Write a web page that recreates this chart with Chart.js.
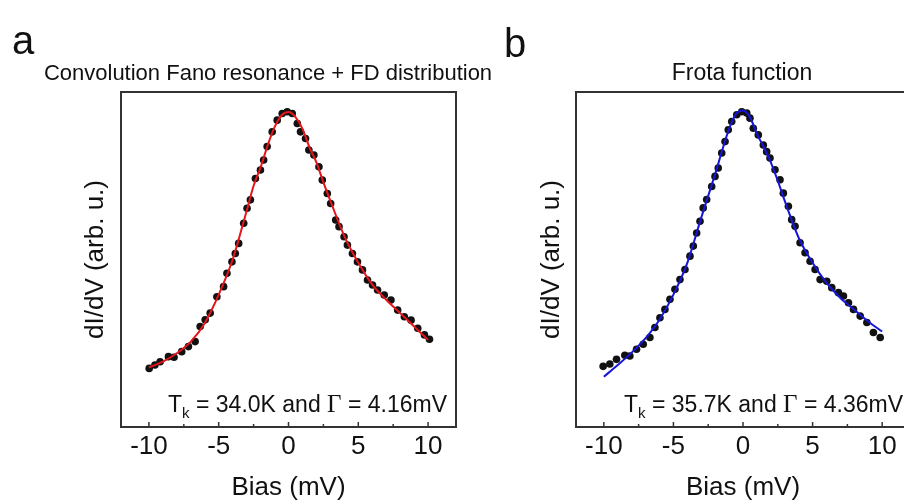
<!DOCTYPE html>
<html>
<head>
<meta charset="utf-8">
<script src="https://cdn.jsdelivr.net/npm/chart.js@4.4.1/dist/chart.umd.min.js"></script>
<style>
  html, body { margin: 0; padding: 0; background: #fff; overflow: hidden; }
  body { width: 904px; height: 503px; position: relative; }
  canvas { position: absolute; top: 0; }
  #chartA { left: 0; }
  #chartB { left: 490px; }
</style>
</head>
<body>
<canvas id="chartA" width="510" height="503"></canvas>
<canvas id="chartB" width="430" height="503"></canvas>
<script>
// measured dI/dV points (arb. u.), panel a
const biasA = [-9.98,-9.57,-9.2,-8.6,-8.2,-7.65,-7.17,-6.69,-6.33,-5.97,-5.61,-5.13,-4.65,-4.41,-4.05,-3.81,-3.57,-3.21,-2.97,-2.73,-2.37,-2.01,-1.78,-1.53,-1.17,-0.81,-0.45,-0.09,0.27,0.63,0.86,1.22,1.46,1.82,2.18,2.42,2.78,3.02,3.38,3.62,3.98,4.22,4.58,4.94,5.3,5.66,6.02,6.38,6.86,7.34,7.82,8.3,8.78,9.26,9.74,10.1];
const didvA = [0.175,0.185,0.195,0.21,0.208,0.225,0.24,0.255,0.30,0.32,0.34,0.389,0.419,0.459,0.493,0.518,0.548,0.608,0.653,0.678,0.742,0.767,0.797,0.837,0.881,0.916,0.936,0.941,0.936,0.906,0.881,0.861,0.827,0.812,0.777,0.737,0.697,0.667,0.618,0.598,0.568,0.543,0.518,0.493,0.469,0.439,0.424,0.409,0.394,0.379,0.349,0.329,0.319,0.295,0.275,0.262];

// panel b
const biasB = [-10.05,-9.57,-9.09,-8.49,-8.13,-7.65,-7.17,-6.69,-6.33,-5.97,-5.61,-5.25,-4.89,-4.53,-4.17,-3.81,-3.57,-3.33,-3.09,-2.86,-2.61,-2.25,-2.01,-1.78,-1.53,-1.29,-1.06,-0.81,-0.45,-0.09,0.27,0.5,0.74,1.1,1.46,1.7,1.94,2.3,2.66,2.9,3.26,3.5,3.74,4.1,4.46,4.82,5.18,5.54,6.02,6.38,6.86,7.22,7.58,7.94,8.42,8.9,9.37,9.86];
const didvB = [0.181,0.188,0.202,0.214,0.212,0.232,0.247,0.267,0.297,0.326,0.351,0.381,0.411,0.44,0.47,0.51,0.54,0.579,0.614,0.654,0.679,0.718,0.748,0.773,0.818,0.852,0.887,0.912,0.932,0.941,0.937,0.922,0.892,0.872,0.842,0.822,0.803,0.768,0.738,0.698,0.659,0.619,0.599,0.55,0.52,0.495,0.47,0.44,0.435,0.416,0.401,0.391,0.371,0.351,0.331,0.312,0.282,0.267];

// fitted curves
const fitBias = [-10,-9,-8,-7,-6,-5,-4,-3,-2.5,-2,-1.5,-1,-0.5,0,0.5,1,1.5,2,2.5,3,4,5,6,7,8,9,10];
const fitFano = [0.178,0.195,0.22,0.255,0.31,0.395,0.50,0.645,0.72,0.775,0.84,0.895,0.93,0.94,0.925,0.89,0.835,0.79,0.73,0.675,0.57,0.49,0.425,0.38,0.34,0.30,0.26];
const fitFrota = [0.15,0.185,0.222,0.265,0.32,0.395,0.49,0.625,0.69,0.755,0.825,0.89,0.935,0.945,0.925,0.875,0.835,0.79,0.735,0.675,0.565,0.49,0.43,0.385,0.35,0.315,0.285];

const xTicks = [-10,-7.5,-5,-2.5,0,2.5,5,7.5,10];

const SANS = '"Liberation Sans", Arial, sans-serif';
const SERIF = '"Liberation Serif", "Times New Roman", serif';

function pts(xs, ys) {
    return xs.map(function(x, i) { return {x: x, y: ys[i]}; });
}

// frame, inward ticks, panel letter, title, annotation
const panelDecor = {
    id: 'panelDecor',
    afterDraw: function(chart, args, opts) {
        const ctx = chart.ctx;
        const a = chart.chartArea;
        const xs = chart.scales.x;
        ctx.save();
        ctx.strokeStyle = '#333';
        ctx.lineWidth = 2;
        ctx.strokeRect(a.left, a.top, a.right - a.left, a.bottom - a.top);
        ctx.lineWidth = 1.5;
        xTicks.forEach(function(v) {
            const px = xs.getPixelForValue(v);
            const len = (v % 5 === 0) ? 5 : 3;
            ctx.beginPath();
            ctx.moveTo(px, a.bottom);
            ctx.lineTo(px, a.bottom - len);
            ctx.stroke();
        });

        ctx.fillStyle = '#111';
        ctx.textBaseline = 'alphabetic';
        ctx.font = '40px ' + SANS;
        ctx.textAlign = 'left';
        ctx.fillText(opts.letter, opts.letterX, opts.letterY);

        ctx.font = opts.titleSize + 'px ' + SANS;
        ctx.textAlign = 'center';
        ctx.fillText(opts.title, opts.titleX, 80);

        // T_k = ... and Γ = ...
        const parts = [
            ['T', '23px ' + SANS, 0],
            ['k', '15px ' + SANS, 6],
            [' = ' + opts.tk + ' and ', '23px ' + SANS, 0],
            ['\u0393', '25px ' + SERIF, 0],
            [' = ' + opts.gamma, '23px ' + SANS, 0]
        ];
        let total = 0;
        parts.forEach(function(p) { ctx.font = p[1]; total += ctx.measureText(p[0]).width; });
        let x = a.right - opts.annotRight - total;
        const base = a.bottom - 15;
        ctx.textAlign = 'left';
        parts.forEach(function(p) {
            ctx.font = p[1];
            ctx.fillText(p[0], x, base + p[2]);
            x += ctx.measureText(p[0]).width;
        });
        ctx.restore();
    }
};

function makeChart(id, xs, ys, fx, fy, color, padLeft, yWidth, padRight, decor) {
    return new Chart(document.getElementById(id), {
        type: 'scatter',
        data: {
            datasets: [
                {
                    data: pts(fx, fy),
                    showLine: true,
                    borderColor: color,
                    borderWidth: 2,
                    pointRadius: 0,
                    cubicInterpolationMode: 'monotone',
                    order: 0
                },
                {
                    data: pts(xs, ys),
                    pointRadius: 3.8,
                    pointBackgroundColor: '#111',
                    pointBorderWidth: 0,
                    order: 1
                }
            ]
        },
        options: {
            responsive: false,
            animation: false,
            layout: { padding: { left: padLeft, right: padRight, top: 92, bottom: 0 } },
            plugins: {
                legend: { display: false },
                tooltip: { enabled: false },
                panelDecor: decor
            },
            scales: {
                x: {
                    type: 'linear',
                    min: -12,
                    max: 12,
                    afterFit: function(s) { s.height = 76; },
                    grid: { display: false, drawTicks: false },
                    border: { display: false },
                    ticks: {
                        stepSize: 5,
                        includeBounds: false,
                        padding: 4,
                        color: '#111',
                        font: { size: 26, family: SANS }
                    },
                    title: {
                        display: true,
                        text: 'Bias (mV)',
                        color: '#111',
                        padding: 0,
                        font: { size: 26, family: SANS }
                    }
                },
                y: {
                    min: 0,
                    max: 1,
                    afterFit: function(s) { s.width = yWidth; },
                    grid: { display: false, drawTicks: false },
                    border: { display: false },
                    ticks: { display: false },
                    title: {
                        display: true,
                        text: 'dI/dV (arb. u.)',
                        color: '#111',
                        padding: 0,
                        font: { size: 26, family: SANS }
                    }
                }
            }
        },
        plugins: [panelDecor]
    });
}

makeChart('chartA', biasA, didvA, fitBias, fitFano, '#e5151b', 80, 41, 54, {
    letter: 'a', letterX: 12, letterY: 54,
    title: 'Convolution Fano resonance + FD distribution', titleSize: 22, titleX: 268,
    tk: '34.0K', gamma: '4.16mV', annotRight: 9
});

makeChart('chartB', biasB, didvB, fitBias, fitFrota, '#1616d8', 46, 40, 10, {
    letter: 'b', letterX: 14, letterY: 57,
    title: 'Frota function', titleSize: 23, titleX: 252,
    tk: '35.7K', gamma: '4.36mV', annotRight: 7
});
</script>
</body>
</html>
